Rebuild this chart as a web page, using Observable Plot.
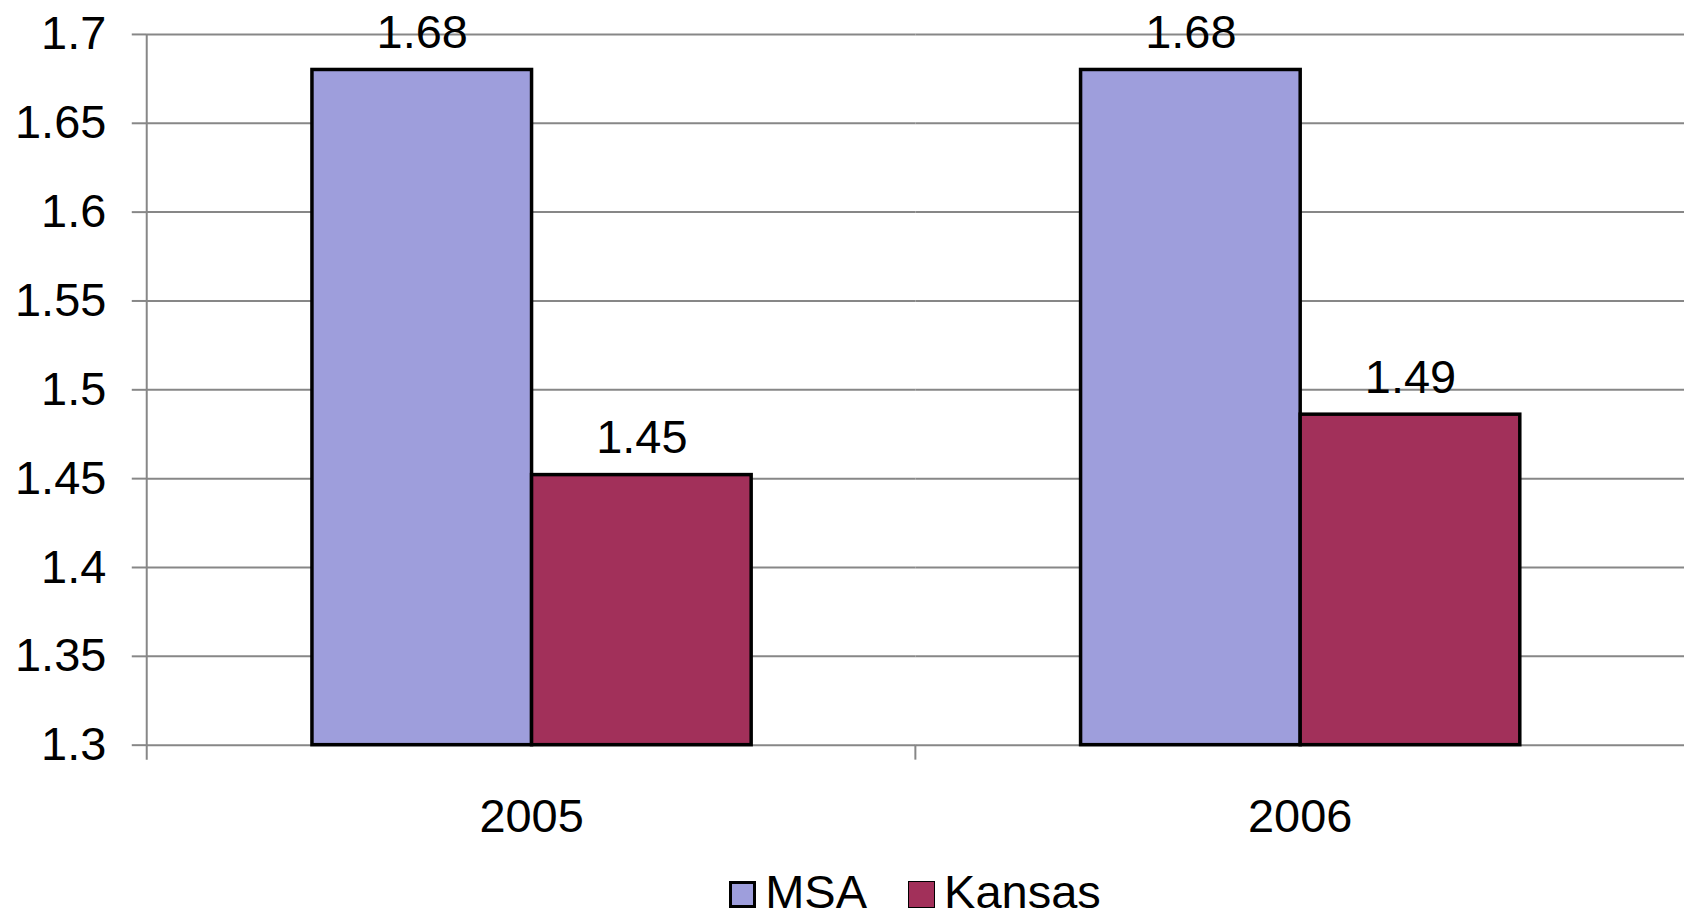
<!DOCTYPE html>
<html>
<head>
<meta charset="utf-8">
<script src="https://cdn.jsdelivr.net/npm/d3@7"></script>
<script src="https://cdn.jsdelivr.net/npm/@observablehq/plot@0.6"></script>
<style>
  html, body { margin: 0; padding: 0; background: #fff; overflow: hidden; }
  body { font-family: "Liberation Sans", Arial, sans-serif; width: 1684px; height: 920px; position: relative; }
  #chart { position: absolute; left: 0; top: 0; width: 1684px; overflow: hidden; }
  #legend { position: absolute; left: 146px; right: 0; top: 874px; height: 36px;
    display: flex; justify-content: center; align-items: center; font-size: 47px; line-height: 36px; color: #000; }
  .item { display: flex; align-items: center; }
  .sw { box-sizing: content-box; margin-right: 9px; margin-top: 4px; }
  .item + .item { margin-left: 41px; }
</style>
</head>
<body>
<div id="chart"></div>
<div id="legend"></div>
<script>
const years = ["2005", "2006"];
const series = ["MSA", "Kansas"];
const msaValues = [1.68, 1.68];
const kansasValues = [1.452, 1.486];
const yDomain = [1.3, 1.7];
const yTicks = [1.3, 1.35, 1.4, 1.45, 1.5, 1.55, 1.6, 1.65, 1.7];
const colors = ["#9e9edc", "#a2305a"];
const swatchBorders = [3, 1];

const rows = [];
years.forEach((yr, i) => {
  rows.push({year: yr, series: "MSA", value: msaValues[i]});
  rows.push({year: yr, series: "Kansas", value: kansasValues[i]});
});

const fmt = d3.format(".2f");
const gridColor = "#878787";

const chart = Plot.plot({
  width: 1687,
  height: 878,
  marginLeft: 146.5,
  marginRight: 0,
  marginTop: 34,
  marginBottom: 132,
  style: {fontFamily: "'Liberation Sans', Arial, sans-serif", fontSize: "47px", color: "#000", background: "#fff", overflow: "visible"},
  fx: {domain: years, padding: 0, label: null, axis: "bottom", tickSize: 0, tickPadding: 54},
  x: {domain: series, paddingInner: 0, paddingOuter: 0.746, axis: null},
  y: {domain: yDomain, axis: null},
  color: {domain: series, range: colors},
  marks: [
    Plot.gridY(yTicks, {stroke: gridColor, strokeOpacity: 1, strokeWidth: 2}),
    Plot.axisY(yTicks, {anchor: "left", tickSize: 15, tickPadding: 26, stroke: gridColor, strokeWidth: 2, fill: "#000",
      tickFormat: d => String(+d.toFixed(2)), label: null}),
    Plot.barY(rows, {fx: "year", x: "series", y1: yDomain[0], y2: "value", fill: "series", stroke: "#000", strokeWidth: 3.5}),
    Plot.text(rows, {fx: "year", x: "series", y: "value", text: d => fmt(d.value), lineAnchor: "bottom", dy: -22, fill: "#000"})
  ]
});
document.getElementById("chart").appendChild(chart);

// axis line and category boundary ticks from the library's scales
const fxS = chart.scale("fx");
const yS = chart.scale("y");
const svg = d3.select(chart);
const yBottom = yS.apply(yDomain[0]);
const yTop = yS.apply(yDomain[1]);
const g = svg.append("g").attr("stroke", gridColor).attr("stroke-width", 2);
g.append("line").attr("x1", fxS.apply(years[0])).attr("x2", fxS.apply(years[0]))
  .attr("y1", yTop).attr("y2", yBottom + 15);
years.slice(1).forEach(yr => {
  const x = fxS.apply(yr);
  g.append("line").attr("x1", x).attr("x2", x).attr("y1", yBottom).attr("y2", yBottom + 15);
});

// legend
const legend = d3.select("#legend");
series.forEach((s, i) => {
  const it = legend.append("div").attr("class", "item");
  it.append("div").attr("class", "sw")
    .style("background", colors[i])
    .style("border", `${swatchBorders[i]}px solid #000`)
    .style("width", `${27 - 2 * swatchBorders[i]}px`)
    .style("height", `${27 - 2 * swatchBorders[i]}px`);
  it.append("span").text(s);
});
</script>
</body>
</html>
